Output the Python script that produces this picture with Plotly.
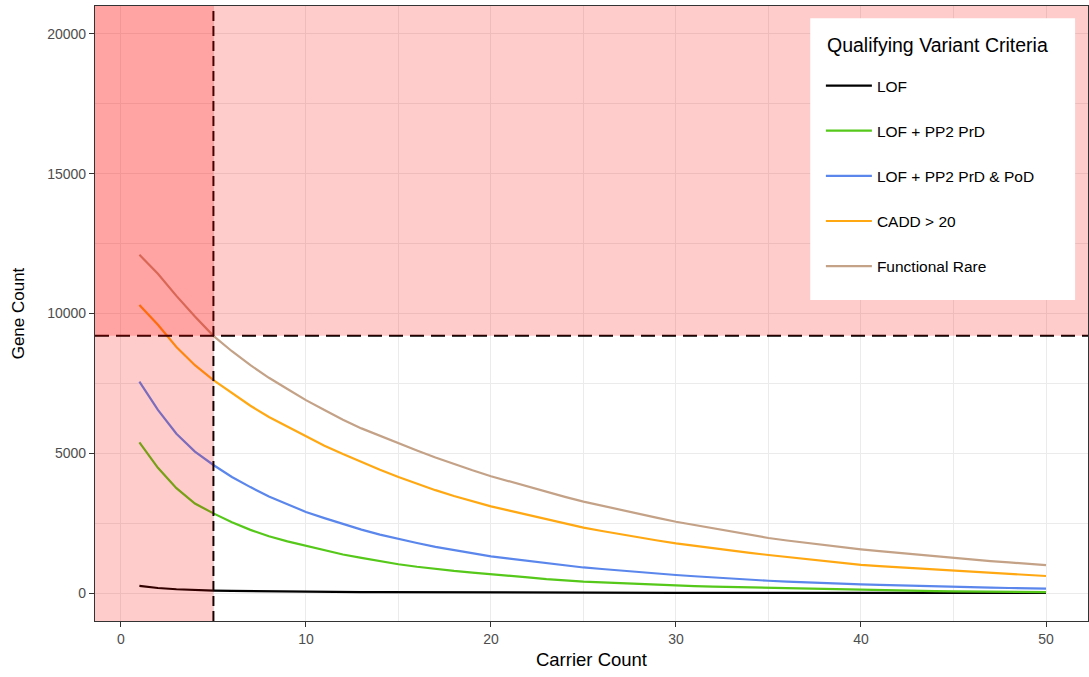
import plotly.graph_objects as go

carrier_count = list(range(1, 51))

series_names = ["LOF", "LOF + PP2 PrD", "LOF + PP2 PrD & PoD", "CADD > 20", "Functional Rare"]

lof = [255, 180, 135, 105, 90, 78, 68, 60, 53, 47, 42, 38, 34, 31, 28, 26, 24, 22, 20, 18,
       17, 16, 15, 14, 13, 12, 11, 10, 10, 9, 9, 8, 8, 7, 7, 6, 6, 6, 5, 5,
       5, 4, 4, 4, 4, 3, 3, 3, 3, 3]

lof_pp2_prd = [5390, 4480, 3750, 3200, 2850, 2530, 2260, 2030, 1850, 1690, 1520, 1380, 1260, 1140, 1030,
               940, 860, 790, 730, 680, 620, 560, 500, 450, 410, 380, 350, 320, 290, 265,
               245, 230, 215, 200, 188, 170, 150, 135, 120, 107, 95, 85, 75, 68, 60,
               55, 50, 45, 40, 36]

lof_pp2_prd_pod = [7560, 6550, 5700, 5060, 4580, 4150, 3790, 3450, 3180, 2900, 2680, 2470, 2270, 2090, 1930,
                   1790, 1650, 1530, 1420, 1310, 1230, 1150, 1070, 990, 915, 860, 800, 745, 690, 645,
                   600, 555, 515, 475, 440, 410, 380, 355, 330, 310, 290, 270, 253, 238, 225,
                   210, 195, 180, 167, 155]

cadd_20 = [10300, 9600, 8800, 8150, 7620, 7150, 6700, 6300, 5950, 5600, 5270, 4970, 4680, 4410, 4150,
           3910, 3680, 3470, 3280, 3100, 2950, 2800, 2640, 2490, 2340, 2220, 2100, 1990, 1880, 1780,
           1690, 1610, 1520, 1440, 1360, 1290, 1220, 1145, 1070, 1005, 960, 920, 880, 840, 800,
           760, 720, 680, 645, 610]

functional_rare = [12100, 11420, 10630, 9890, 9200, 8650, 8150, 7700, 7300, 6900, 6550, 6200, 5890, 5620, 5360,
                   5100, 4850, 4610, 4390, 4180, 3990, 3800, 3620, 3440, 3270, 3120, 2980, 2830, 2690, 2550,
                   2430, 2310, 2200, 2080, 1970, 1880, 1800, 1710, 1635, 1565, 1500, 1440, 1370, 1305, 1245,
                   1195, 1145, 1095, 1050, 1000]

series_values = [lof, lof_pp2_prd, lof_pp2_prd_pod, cadd_20, functional_rare]
series_colors = ["#000000", "#55C81A", "#5B87EC", "#FFA812", "#C4A287"]

legend_title = "Qualifying Variant Criteria"

carrier_threshold = 5
gene_threshold = 9200

x_range = [-1.4, 52.27]
y_range = [-1000, 21000]

x_ticks = [0, 10, 20, 30, 40, 50]
y_ticks = [0, 5000, 10000, 15000, 20000]

FONT = "Liberation Sans, Arial, sans-serif"

fig = go.Figure()
for i, (name, vals, col) in enumerate(zip(series_names, series_values, series_colors)):
    fig.add_trace(go.Scatter(
        x=carrier_count, y=vals, mode="lines", name=name,
        line=dict(color=col, width=2.2), legendgroup=f"g{i}",
    ))

# dashed threshold lines (drawn beneath the shaded rects)
fig.add_shape(type="line", xref="x", yref="y domain", x0=carrier_threshold, x1=carrier_threshold,
              y0=0, y1=1, line=dict(color="black", width=2, dash="10px,5px"), layer="above")
fig.add_shape(type="line", xref="x domain", yref="y", x0=0, x1=1, y0=gene_threshold, y1=gene_threshold,
              line=dict(color="black", width=2, dash="14px,7px"), layer="above")

# shaded regions
fig.add_shape(type="rect", xref="x", yref="y domain", x0=x_range[0], x1=carrier_threshold, y0=0, y1=1,
              fillcolor="rgba(255,0,0,0.2)", line=dict(width=0), layer="above")
fig.add_shape(type="rect", xref="x domain", yref="y", x0=0, x1=1, y0=gene_threshold, y1=y_range[1],
              fillcolor="rgba(255,0,0,0.2)", line=dict(width=0), layer="above")

# legend background box
fig.add_shape(type="rect", xref="paper", yref="paper", x0=0.7203, x1=0.987, y0=0.522, y1=0.980,
              fillcolor="white", line=dict(width=0), layer="above")

fig.add_annotation(text=legend_title, xref="paper", yref="paper", x=0.7354, y=0.9366,
                   xanchor="left", yanchor="middle", showarrow=False,
                   font=dict(family=FONT, size=19.5, color="black"))

axis_common = dict(
    showgrid=True, gridcolor="#EBEBEB", gridwidth=1.4,
    showline=True, linecolor="#333333", linewidth=1.2, mirror=True,
    ticks="outside", ticklen=5, tickcolor="#333333", tickwidth=1.2,
    tickfont=dict(family=FONT, size=14, color="#4D4D4D"),
    zeroline=False, automargin=False,
)

fig.update_xaxes(range=x_range, tickvals=x_ticks, ticktext=[str(v) for v in x_ticks], **axis_common,
                 minor=dict(tickvals=[5, 15, 25, 35, 45], showgrid=True, gridcolor="#EBEBEB", gridwidth=0.7, ticks=""),
                 title=dict(text="Carrier Count", font=dict(family=FONT, size=18.5, color="black"), standoff=7))
fig.update_yaxes(range=y_range, tickvals=y_ticks, ticktext=[str(v) for v in y_ticks], **axis_common,
                 minor=dict(tickvals=[2500, 7500, 12500, 17500], showgrid=True, gridcolor="#EBEBEB", gridwidth=0.7, ticks=""),
                 title=dict(text="Gene Count", font=dict(family=FONT, size=17, color="black"), standoff=18))

fig.update_layout(
    width=1089, height=677,
    margin=dict(l=95, r=1, t=6, b=56, autoexpand=False),
    plot_bgcolor="white", paper_bgcolor="white",
    font=dict(family=FONT),
    legend=dict(
        x=0.731, y=0.8976, xanchor="left", yanchor="top",
        bgcolor="rgba(0,0,0,0)", borderwidth=0,
        font=dict(family=FONT, size=15.5, color="black"),
        tracegroupgap=22, itemwidth=46,
    ),
)

fig.write_html("out.html", config={"displayModeBar": False},
               post_script="document.body.style.margin='0px';")
